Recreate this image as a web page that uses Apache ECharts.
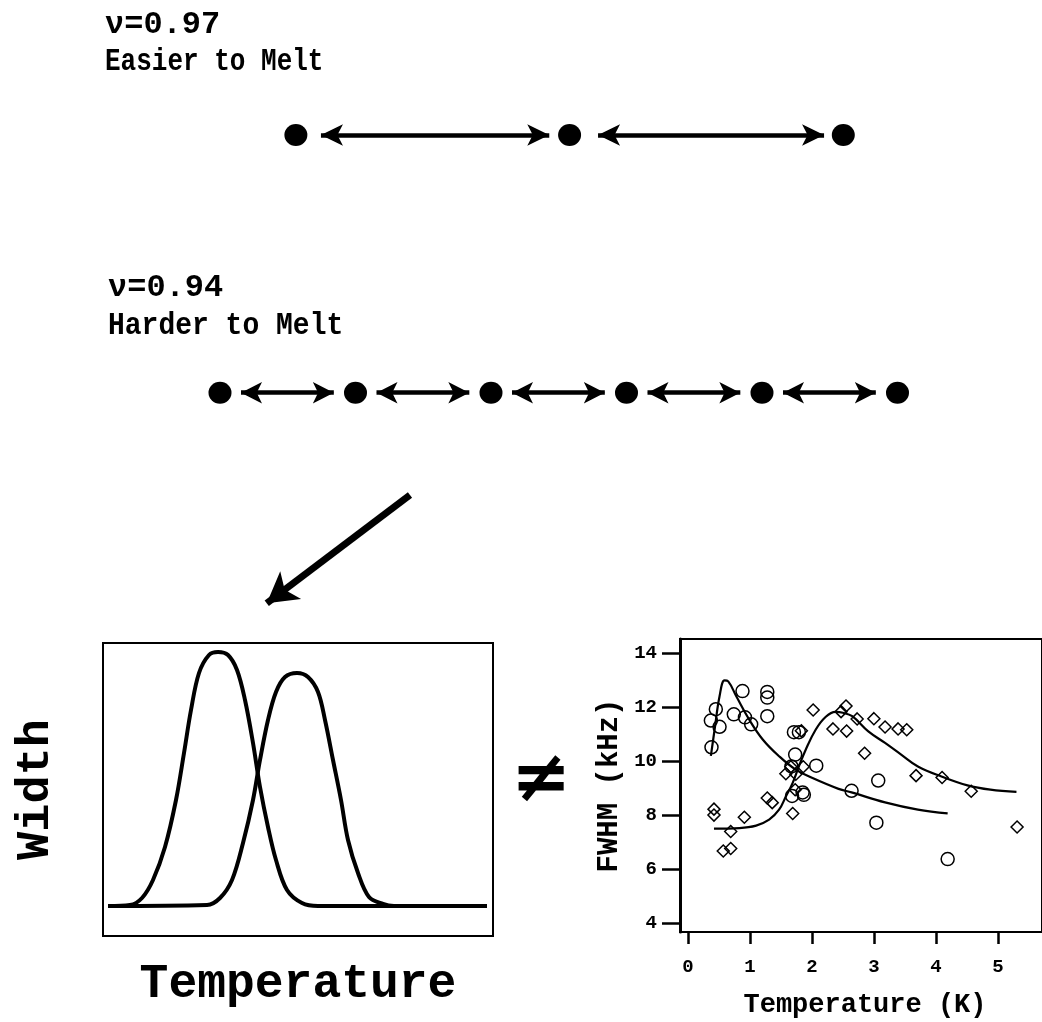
<!DOCTYPE html>
<html>
<head>
<meta charset="utf-8">
<script src="https://cdn.jsdelivr.net/npm/echarts@6/dist/echarts.min.js"></script>
<style>
html,body{margin:0;padding:0;background:#fff;}
#c{width:1042px;height:1022px;}
</style>
</head>
<body>
<div id="c"></div>
<script>
// ---------- data ----------
// lattice sketch (site positions in lattice units, row 1 = nu 0.97, row 0 = nu 0.94)
const sitesRow1 = [0.56, 2.58, 4.60];
const sitesRow2 = [0, 1, 2, 3, 4, 5];
const arrowsRow1 = [[0.745, 2.43], [2.79, 4.458]];
const arrowsRow2 = [[0.155, 0.84], [1.155, 1.84], [2.155, 2.84], [3.155, 3.84], [4.155, 4.84]];
const bigArrowTail = [1.402, -0.397];
const bigArrowHead = [0.345, -0.817];

// schematic width-vs-temperature curves (arbitrary units)
const sketchT1 = [5, 27, 39, 50, 62, 73, 81, 88, 96, 106, 115, 125, 134, 142, 150, 157, 165, 173, 184, 199, 215, 384];
const sketchW1 = [30, 31, 38, 56, 89, 136, 183, 226, 263, 281, 284, 281, 266, 236, 193, 149, 109, 76, 46, 33, 30, 30];
const sketchT2 = [5, 104, 117, 129, 140, 150, 157, 165, 173, 182, 194, 205, 215, 222, 230, 238, 245, 255, 266, 280, 291, 384];
const sketchW2 = [30, 31, 38, 56, 93, 136, 176, 216, 244, 259, 263, 259, 244, 216, 176, 136, 96, 63, 39, 32, 30, 30];

// FWHM measurements (Temperature K, FWHM kHz)
const circleT = [0.38, 0.37, 0.45, 0.51, 0.74, 0.88, 0.92, 1.02, 1.28, 1.28, 1.28, 1.71, 1.79, 1.73, 1.67, 1.68, 1.85, 1.87, 2.07, 2.64, 3.07, 3.04, 4.19];
const circleW = [10.52, 11.51, 11.93, 11.28, 11.74, 12.60, 11.63, 11.37, 12.57, 12.36, 11.67, 11.08, 11.08, 10.25, 9.81, 8.72, 8.85, 8.76, 9.84, 8.91, 9.29, 7.73, 6.38];
const diamondT = [0.42, 0.42, 0.57, 0.69, 0.69, 0.91, 1.28, 1.36, 1.58, 1.69, 1.74, 1.73, 1.66, 1.83, 1.86, 2.02, 2.34, 2.55, 2.47, 2.56, 2.73, 2.85, 3.00, 3.18, 3.39, 3.53, 3.68, 4.10, 4.57, 5.31];
const diamondW = [8.23, 8.01, 6.68, 6.77, 7.40, 7.93, 8.64, 8.47, 9.54, 8.07, 9.52, 8.95, 9.80, 11.13, 9.80, 11.90, 11.20, 12.05, 11.84, 11.12, 11.57, 10.30, 11.58, 11.27, 11.20, 11.17, 9.47, 9.40, 8.89, 7.57];
const fitCircleT = [0.37, 0.43, 0.51, 0.59, 0.65, 0.78, 0.99, 1.21, 1.47, 1.74, 2.01, 2.43, 2.64, 3.18, 3.71, 4.19];
const fitCircleW = [10.2, 11.17, 12.41, 13.0, 12.96, 12.41, 11.54, 10.80, 10.19, 9.69, 9.38, 8.98, 8.85, 8.48, 8.21, 8.07];
const fitDiamondT = [0.42, 0.83, 1.10, 1.31, 1.47, 1.58, 1.69, 1.79, 1.90, 2.06, 2.22, 2.38, 2.50, 2.65, 2.91, 3.18, 3.44, 3.71, 4.09, 4.51, 4.88, 5.30];
const fitDiamondW = [7.51, 7.53, 7.62, 7.84, 8.21, 8.70, 9.20, 9.81, 10.43, 11.17, 11.64, 11.83, 11.80, 11.67, 11.11, 10.68, 10.25, 9.81, 9.44, 9.11, 8.95, 8.87];

const xTicks = [0, 1, 2, 3, 4, 5];
const yTicks = [4, 6, 8, 10, 12, 14];

// ---------- helpers ----------
const zip = (a, b) => a.map((v, i) => [v, b[i]]);
const MONO = 'Liberation Mono';
const BLACK = '#000';

const chart = echarts.init(document.getElementById('c'), null, {renderer: 'canvas'});

const hiddenAxis = (extra) => Object.assign({
  type: 'value', show: true,
  axisLine: {show: false}, axisTick: {show: false}, axisLabel: {show: false}, splitLine: {show: false}
}, extra);

const option = {
  backgroundColor: '#fff',
  animation: false,
  grid: [
    {left: 220, right: 144.5, top: 83.5, bottom: 371.6, show: false},
    {left: 103, right: 549, top: 643, bottom: 86, show: true, borderColor: BLACK, borderWidth: 2},
    {left: 680, right: -4, top: 639, bottom: 90, show: true, borderColor: BLACK, borderWidth: 2}
  ],
  xAxis: [
    hiddenAxis({gridIndex: 0, min: 0, max: 5}),
    hiddenAxis({gridIndex: 1, min: 0, max: 390, name: 'Temperature', nameLocation: 'middle', nameGap: 25,
      nameTextStyle: {fontFamily: MONO, fontWeight: 'bold', fontSize: 48, color: BLACK, verticalAlign: 'top'}}),
    {
      type: 'value', gridIndex: 2, min: -0.128, max: 5.712,
      axisLine: {show: false, onZero: false},
      axisTick: {show: true, customValues: xTicks, length: 12, lineStyle: {color: BLACK, width: 2.5}},
      axisLabel: {show: true, customValues: xTicks, margin: 26, fontFamily: MONO, fontWeight: 'bold', fontSize: 19, color: BLACK},
      splitLine: {show: false},
      name: 'Temperature (K)', nameLocation: 'middle', nameGap: 60,
      nameTextStyle: {fontFamily: MONO, fontWeight: 'bold', fontSize: 27, color: BLACK, verticalAlign: 'top', padding: [0, 0, 0, 8]}
    }
  ],
  yAxis: [
    hiddenAxis({gridIndex: 0, min: -1, max: 1.2}),
    hiddenAxis({gridIndex: 1, min: 0, max: 293, name: 'Width', nameLocation: 'middle', nameRotate: 90, nameGap: 43,
      nameTextStyle: {fontFamily: MONO, fontWeight: 'bold', fontSize: 47, color: BLACK}}),
    {
      type: 'value', gridIndex: 2, min: 3.68, max: 14.53,
      axisLine: {show: true, onZero: false, lineStyle: {color: BLACK, width: 3}},
      axisTick: {show: true, customValues: yTicks, length: 18, lineStyle: {color: BLACK, width: 2.5}},
      axisLabel: {show: true, customValues: yTicks, margin: 23, fontFamily: MONO, fontWeight: 'bold', fontSize: 19, color: BLACK},
      splitLine: {show: false},
      name: 'FWHM (kHz)', nameLocation: 'middle', nameRotate: 90, nameGap: 56,
      nameTextStyle: {fontFamily: MONO, fontWeight: 'bold', fontSize: 29, color: BLACK}
    }
  ],
  series: [
    // lattice dots
    {type: 'scatter', xAxisIndex: 0, yAxisIndex: 0, symbol: 'circle', symbolSize: [23, 22], clip: false,
      itemStyle: {color: BLACK, opacity: 1}, data: sitesRow1.map(x => [x, 1])},
    {type: 'scatter', xAxisIndex: 0, yAxisIndex: 0, symbol: 'circle', symbolSize: [23, 22], clip: false,
      itemStyle: {color: BLACK, opacity: 1}, data: sitesRow2.map(x => [x, 0])},
    // double arrows
    {type: 'lines', coordinateSystem: 'cartesian2d', xAxisIndex: 0, yAxisIndex: 0,
      symbol: ['arrow', 'arrow'], symbolSize: [[16, 22], [16, 22]],
      lineStyle: {color: BLACK, width: 4.5, opacity: 1, curveness: 0},
      data: arrowsRow1.map(a => ({coords: [[a[0], 1], [a[1], 1]]}))},
    {type: 'lines', coordinateSystem: 'cartesian2d', xAxisIndex: 0, yAxisIndex: 0,
      symbol: ['arrow', 'arrow'], symbolSize: [[16, 21], [16, 21]],
      lineStyle: {color: BLACK, width: 4.5, opacity: 1, curveness: 0},
      data: arrowsRow2.map(a => ({coords: [[a[0], 0], [a[1], 0]]}))},
    // big arrow
    {type: 'lines', coordinateSystem: 'cartesian2d', xAxisIndex: 0, yAxisIndex: 0,
      symbol: ['none', 'arrow'], symbolSize: [[1, 1], [26, 30]],
      lineStyle: {color: BLACK, width: 7, opacity: 1, curveness: 0},
      data: [{coords: [bigArrowTail, bigArrowHead]}]},
    // schematic curves
    {type: 'line', xAxisIndex: 1, yAxisIndex: 1, data: zip(sketchT1, sketchW1), smooth: 0.35, symbol: 'none',
      lineStyle: {color: BLACK, width: 4}},
    {type: 'line', xAxisIndex: 1, yAxisIndex: 1, data: zip(sketchT2, sketchW2), smooth: 0.35, symbol: 'none',
      lineStyle: {color: BLACK, width: 4}},
    // FWHM data
    {type: 'line', xAxisIndex: 2, yAxisIndex: 2, data: zip(fitCircleT, fitCircleW), smooth: 0.4, symbol: 'none',
      lineStyle: {color: BLACK, width: 2.2}},
    {type: 'line', xAxisIndex: 2, yAxisIndex: 2, data: zip(fitDiamondT, fitDiamondW), smooth: 0.4, symbol: 'none',
      lineStyle: {color: BLACK, width: 2.2}},
    {type: 'scatter', xAxisIndex: 2, yAxisIndex: 2, symbol: 'circle', symbolSize: 13,
      itemStyle: {color: 'rgba(0,0,0,0)', borderColor: BLACK, borderWidth: 1.5, opacity: 1}, data: zip(circleT, circleW)},
    {type: 'scatter', xAxisIndex: 2, yAxisIndex: 2, symbol: 'diamond', symbolSize: 12,
      itemStyle: {color: 'rgba(0,0,0,0)', borderColor: BLACK, borderWidth: 1.5, opacity: 1}, data: zip(diamondT, diamondW)}
  ],
  graphic: [
    {type: 'text', x: 105, y: 9, style: {text: 'ν=0.97', fontFamily: MONO, fontWeight: 'bold', fontSize: 32, fill: BLACK, verticalAlign: 'top'}},
    {type: 'text', x: 105, y: 47, scaleY: 1.2, style: {text: 'Easier to Melt', fontFamily: MONO, fontWeight: 'bold', fontSize: 26, fill: BLACK, verticalAlign: 'top'}},
    {type: 'text', x: 108, y: 272, style: {text: 'ν=0.94', fontFamily: MONO, fontWeight: 'bold', fontSize: 32, fill: BLACK, verticalAlign: 'top'}},
    {type: 'text', x: 108, y: 311, scaleY: 1.1, style: {text: 'Harder to Melt', fontFamily: MONO, fontWeight: 'bold', fontSize: 28, fill: BLACK, verticalAlign: 'top'}},
    {type: 'text', x: 541, y: 782, style: {text: '≠', fontFamily: 'DejaVu Sans', fontWeight: 'bold', fontSize: 72, fill: BLACK, align: 'center', verticalAlign: 'middle'}}
  ]
};
chart.setOption(option);
</script>
</body>
</html>
